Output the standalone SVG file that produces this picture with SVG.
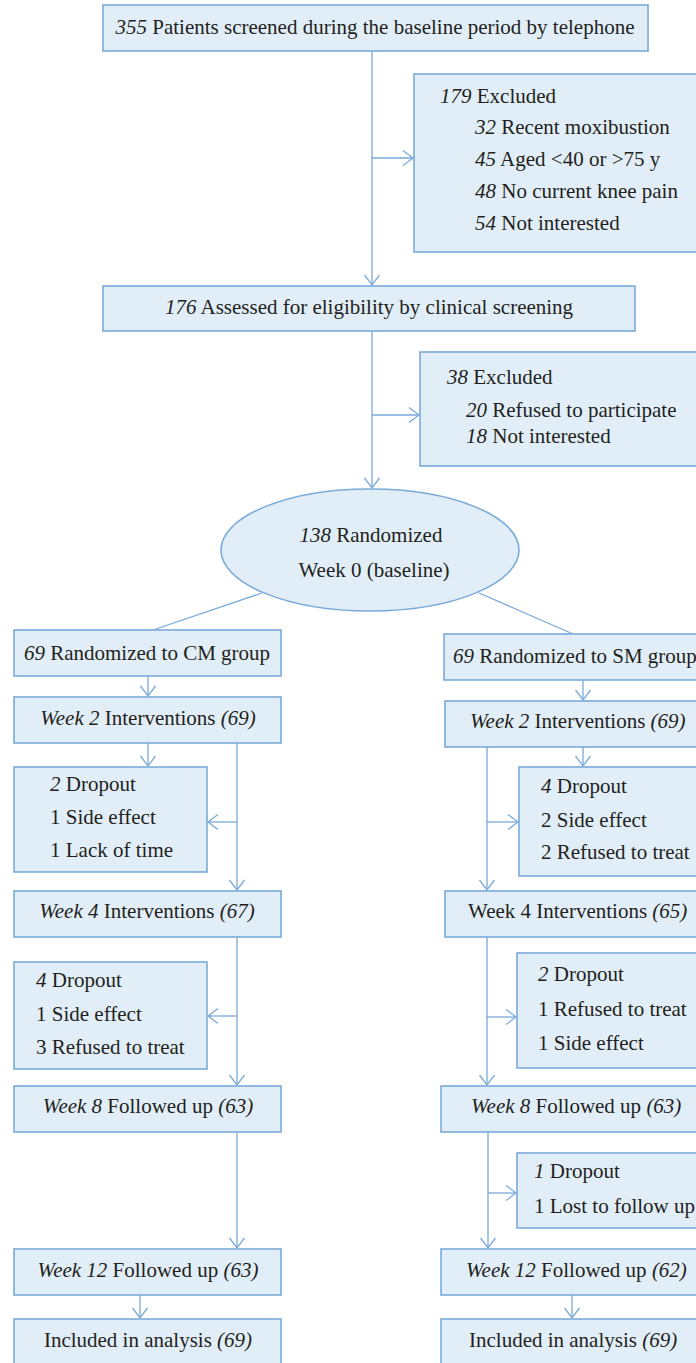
<svg xmlns="http://www.w3.org/2000/svg" width="696" height="1363" viewBox="0 0 696 1363">
<style>
.b{fill:#e1eef8;stroke:#7aaad9;stroke-width:1.6}
.c{fill:none;stroke:#7aaad9;stroke-width:1.3}
text{font-family:"Liberation Serif","Times New Roman",serif;font-size:21px;fill:#231f20}
.m{text-anchor:middle}
.i{font-style:italic}
</style>
<defs>
<marker id="a" viewBox="-11 -9 13 18" markerWidth="13" markerHeight="18" refX="0" refY="0" markerUnits="userSpaceOnUse" orient="auto">
<path d="M-10,-7.5 L0,0 L-10,7.5" fill="none" stroke="#7aaad9" stroke-width="1.3"/>
</marker>
</defs>
<g id="connectors">
<line class="c" x1="372" y1="51" x2="372" y2="285" marker-end="url(#a)"/>
<line class="c" x1="372" y1="158" x2="413" y2="158" marker-end="url(#a)"/>
<line class="c" x1="372" y1="331" x2="372" y2="488" marker-end="url(#a)"/>
<line class="c" x1="372" y1="415" x2="419" y2="415" marker-end="url(#a)"/>
<line class="c" x1="262" y1="593" x2="153" y2="630"/>
<line class="c" x1="479" y1="593" x2="573" y2="634"/>
<!-- left column -->
<line class="c" x1="148" y1="676" x2="148" y2="696" marker-end="url(#a)"/>
<line class="c" x1="148" y1="743" x2="148" y2="766" marker-end="url(#a)"/>
<line class="c" x1="237" y1="743" x2="237" y2="890" marker-end="url(#a)"/>
<line class="c" x1="237" y1="822" x2="208" y2="822" marker-end="url(#a)"/>
<line class="c" x1="237" y1="937" x2="237" y2="1085" marker-end="url(#a)"/>
<line class="c" x1="237" y1="1016" x2="208" y2="1016" marker-end="url(#a)"/>
<line class="c" x1="237" y1="1132" x2="237" y2="1248" marker-end="url(#a)"/>
<line class="c" x1="140" y1="1295" x2="140" y2="1318" marker-end="url(#a)"/>
<!-- right column -->
<line class="c" x1="583" y1="680" x2="583" y2="700" marker-end="url(#a)"/>
<line class="c" x1="583" y1="747" x2="583" y2="766" marker-end="url(#a)"/>
<line class="c" x1="487" y1="747" x2="487" y2="890" marker-end="url(#a)"/>
<line class="c" x1="487" y1="822" x2="518" y2="822" marker-end="url(#a)"/>
<line class="c" x1="487" y1="937" x2="487" y2="1085" marker-end="url(#a)"/>
<line class="c" x1="487" y1="1017" x2="516" y2="1017" marker-end="url(#a)"/>
<line class="c" x1="488" y1="1132" x2="488" y2="1248" marker-end="url(#a)"/>
<line class="c" x1="488" y1="1193" x2="516" y2="1193" marker-end="url(#a)"/>
<line class="c" x1="572" y1="1295" x2="572" y2="1318" marker-end="url(#a)"/>
</g>
<g id="screened"><rect class="b" x="103" y="5" width="545" height="46"/>
<text class="m" x="375" y="34"><tspan class="i">355</tspan> Patients screened during the baseline period by telephone</text></g>
<g id="excluded1"><rect class="b" x="414" y="74" width="290" height="178"/>
<text x="440" y="103"><tspan class="i">179</tspan> Excluded</text>
<text x="475" y="134"><tspan class="i">32</tspan> Recent moxibustion</text>
<text x="475" y="166"><tspan class="i">45</tspan> Aged &lt;40 or &gt;75 y</text>
<text x="475" y="198"><tspan class="i">48</tspan> No current knee pain</text>
<text x="475" y="230"><tspan class="i">54</tspan> Not interested</text></g>
<g id="assessed"><rect class="b" x="103" y="286" width="532" height="45"/>
<text class="m" x="369" y="314"><tspan class="i">176</tspan> Assessed for eligibility by clinical screening</text></g>
<g id="excluded2"><rect class="b" x="420" y="352" width="284" height="114"/>
<text x="447" y="384"><tspan class="i">38</tspan> Excluded</text>
<text x="466" y="417"><tspan class="i">20</tspan> Refused to participate</text>
<text x="466" y="443"><tspan class="i">18</tspan> Not interested</text></g>
<g id="randomized"><ellipse class="b" cx="370" cy="550" rx="149" ry="61"/>
<text class="m" x="371" y="542"><tspan class="i">138</tspan> Randomized</text>
<text class="m" x="374" y="577">Week 0 (baseline)</text></g>
<g id="cm"><rect class="b" x="14" y="630" width="267" height="46"/>
<text class="m" x="147" y="660"><tspan class="i">69</tspan> Randomized to CM group</text></g>
<g id="cm-w2"><rect class="b" x="14" y="697" width="267" height="46"/>
<text class="m" x="148" y="725"><tspan class="i">Week 2</tspan> Interventions <tspan class="i">(69)</tspan></text></g>
<g id="cm-drop1"><rect class="b" x="14" y="767" width="193" height="105"/>
<text x="50" y="791"><tspan class="i">2</tspan> Dropout</text>
<text x="50" y="824">1 Side effect</text>
<text x="50" y="857">1 Lack of time</text></g>
<g id="cm-w4"><rect class="b" x="14" y="891" width="267" height="46"/>
<text class="m" x="147" y="918"><tspan class="i">Week 4</tspan> Interventions <tspan class="i">(67)</tspan></text></g>
<g id="cm-drop2"><rect class="b" x="14" y="962" width="193" height="107"/>
<text x="36" y="987"><tspan class="i">4</tspan> Dropout</text>
<text x="36" y="1021">1 Side effect</text>
<text x="36" y="1054">3 Refused to treat</text></g>
<g id="cm-w8"><rect class="b" x="14" y="1086" width="267" height="46"/>
<text class="m" x="148" y="1113"><tspan class="i">Week 8</tspan> Followed up <tspan class="i">(63)</tspan></text></g>
<g id="cm-w12"><rect class="b" x="14" y="1249" width="267" height="46"/>
<text class="m" x="148" y="1277"><tspan class="i">Week 12</tspan> Followed up <tspan class="i">(63)</tspan></text></g>
<g id="cm-analysis"><rect class="b" x="14" y="1319" width="267" height="50"/>
<text class="m" x="148" y="1347">Included in analysis <tspan class="i">(69)</tspan></text></g>
<g id="sm"><rect class="b" x="444" y="634" width="260" height="46"/>
<text x="453" y="663"><tspan class="i">69</tspan> Randomized to SM group</text></g>
<g id="sm-w2"><rect class="b" x="445" y="701" width="259" height="46"/>
<text x="470" y="728"><tspan class="i">Week 2</tspan> Interventions <tspan class="i">(69)</tspan></text></g>
<g id="sm-drop1"><rect class="b" x="519" y="767" width="185" height="109"/>
<text x="541" y="793"><tspan class="i">4</tspan> Dropout</text>
<text x="541" y="827">2 Side effect</text>
<text x="541" y="859">2 Refused to treat</text></g>
<g id="sm-w4"><rect class="b" x="445" y="891" width="259" height="46"/>
<text x="468" y="918">Week 4 Interventions <tspan class="i">(65)</tspan></text></g>
<g id="sm-drop2"><rect class="b" x="517" y="953" width="187" height="115"/>
<text x="538" y="981"><tspan class="i">2</tspan> Dropout</text>
<text x="538" y="1016">1 Refused to treat</text>
<text x="538" y="1050">1 Side effect</text></g>
<g id="sm-w8"><rect class="b" x="441" y="1086" width="263" height="46"/>
<text x="471" y="1113"><tspan class="i">Week 8</tspan> Followed up <tspan class="i">(63)</tspan></text></g>
<g id="sm-drop3"><rect class="b" x="517" y="1153" width="187" height="75"/>
<text x="534" y="1178"><tspan class="i">1</tspan> Dropout</text>
<text x="534" y="1213">1 Lost to follow up</text></g>
<g id="sm-w12"><rect class="b" x="441" y="1249" width="263" height="46"/>
<text x="466" y="1277"><tspan class="i">Week 12</tspan> Followed up <tspan class="i">(62)</tspan></text></g>
<g id="sm-analysis"><rect class="b" x="441" y="1319" width="263" height="50"/>
<text x="469" y="1347">Included in analysis <tspan class="i">(69)</tspan></text></g>
</svg>
